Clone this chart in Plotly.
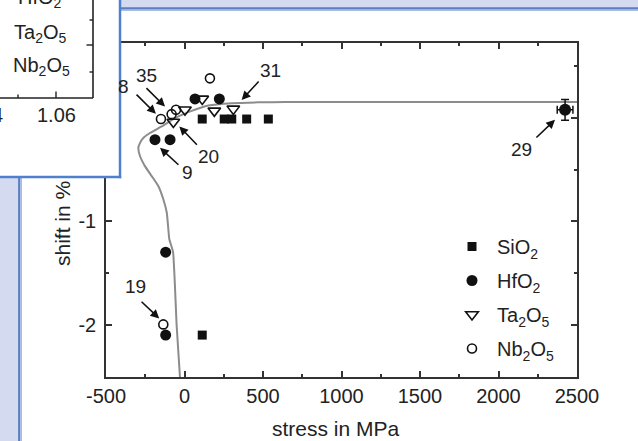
import plotly.graph_objects as go

# ---------------- data ----------------
sio2_stress = [113, 253, 301, 396, 534, 113]
sio2_shift = [-0.013, -0.013, -0.013, -0.013, -0.013, -2.096]

hfo2_stress = [67, 222, -188, -92, -120, -120]
hfo2_shift = [0.181, 0.181, -0.212, -0.212, -1.297, -2.096]

ta2o5_stress = [-71, 3, 113, 190, 311]
ta2o5_shift = [-0.042, 0.076, 0.181, 0.066, 0.085]

nb2o5_stress = [-150, -82, -54, 162, -135]
nb2o5_shift = [-0.013, 0.034, 0.076, 0.379, -1.993]

ref29_stress = [2424]
ref29_shift = [0.076]
ref29_err_stress = [50]
ref29_err_shift = [0.1]

model_stress = [-29, -50, -73, -97, -103, -113, -135, -167, -209, -252, -283, -294,
                -283, -262, -220, -145, -61, 46, 152, 301, 470, 640, 1000, 2500]
model_shift = [-2.5, -2.003, -1.294, -1.17, -1.074, -0.914, -0.786, -0.659, -0.563, -0.467,
               -0.372, -0.291, -0.243, -0.195, -0.148, -0.084, -0.004, 0.066, 0.117, 0.14,
               0.148, 0.15, 0.15, 0.15]

# reference labels: label text, label position, arrow tail, arrow head
ref_labels = ["35", "8", "20", "9", "31", "29", "19"]
ref_label_x = [-241, -390, 152, 18, 545, 2148, -315]
ref_label_y = [0.411, 0.299, -0.372, -0.531, 0.459, -0.306, -1.632]
ref_tail_x = [-252, -315, 88, -29, 481, 2232, -283]
ref_tail_y = [0.299, 0.236, -0.276, -0.467, 0.363, -0.205, -1.761]
ref_head_x = [-124, -182, -33, -156, 364, 2360, -161]
ref_head_y = [0.107, 0.037, -0.084, -0.291, 0.171, -0.02, -1.936]

x_ticks = [-500, 0, 500, 1000, 1500, 2000, 2500]
y_ticks = [-2, -1, 0]

# ---------------- figure ----------------
W, H = 638, 441
ML, MR, MT, MB = 106, 61, 43, 64
PW, PH = W - ML - MR, H - MT - MB


def px(x):
    return (x - ML) / PW


def py(y):
    return (H - MB - y) / PH


FONT = "Liberation Sans, Arial, sans-serif"
INK = "#222222"
AX = "#333333"

fig = go.Figure()

fig.add_trace(go.Scatter(x=model_stress, y=model_shift, mode="lines",
                         line=dict(color="#8c8c8c", width=2, shape="spline", smoothing=0.4),
                         showlegend=False, hoverinfo="skip"))

fig.add_trace(go.Scatter(x=sio2_stress, y=sio2_shift, mode="markers", name="SiO<sub>2</sub>",
                         legendgroup="a",
                         marker=dict(symbol="square", size=9, color="#111111")))
fig.add_trace(go.Scatter(x=hfo2_stress, y=hfo2_shift, mode="markers", name="HfO<sub>2</sub>",
                         legendgroup="b",
                         marker=dict(symbol="circle", size=11, color="#111111")))
fig.add_trace(go.Scatter(x=ta2o5_stress, y=ta2o5_shift, mode="markers",
                         name="Ta<sub>2</sub>O<sub>5</sub>", legendgroup="c",
                         marker=dict(symbol="triangle-down-open", size=11,
                                     color="#111111", line=dict(width=1.6, color="#111111"))))
fig.add_trace(go.Scatter(x=nb2o5_stress, y=nb2o5_shift, mode="markers",
                         name="Nb<sub>2</sub>O<sub>5</sub>", legendgroup="d",
                         marker=dict(symbol="circle-open", size=9,
                                     color="#111111", line=dict(width=1.6, color="#111111"))))
fig.add_trace(go.Scatter(x=ref29_stress, y=ref29_shift, mode="markers", showlegend=False,
                         marker=dict(symbol="circle", size=12, color="#111111"),
                         error_y=dict(type="data", array=ref29_err_shift, color="#111111",
                                      thickness=1.5, width=4),
                         error_x=dict(type="data", array=ref29_err_stress, color="#111111",
                                      thickness=1.5, width=4)))

annotations = []
for lab, lx, ly, tx, ty, hx, hy in zip(ref_labels, ref_label_x, ref_label_y,
                                        ref_tail_x, ref_tail_y, ref_head_x, ref_head_y):
    annotations.append(dict(x=hx, y=hy, ax=tx, ay=ty, xref="x", yref="y", axref="x", ayref="y",
                            text="", showarrow=True, arrowhead=2, arrowsize=1.1,
                            arrowwidth=1.6, arrowcolor="#111111", standoff=0, startstandoff=0))
    annotations.append(dict(x=lx, y=ly, xref="x", yref="y", text=lab, showarrow=False,
                            xanchor="center", yanchor="middle",
                            font=dict(family=FONT, size=19, color=INK)))


def paper_text(x, y, text, size=20, angle=0):
    return dict(x=px(x), y=py(y), xref="paper", yref="paper", text=text, showarrow=False,
                xanchor="center", yanchor="middle", textangle=angle,
                font=dict(family=FONT, size=size, color=INK))


# axis titles
annotations.append(paper_text(336, 428, "stress in MPa", 21))
annotations.append(paper_text(62, 224, "shift in %", 21, -90))

# inset texts (cropped overlapping chart)
annotations.append(paper_text(40, -2, "HfO<sub>2</sub>"))
annotations.append(paper_text(40, 33, "Ta<sub>2</sub>O<sub>5</sub>"))
annotations.append(paper_text(41, 66, "Nb<sub>2</sub>O<sub>5</sub>"))
annotations.append(paper_text(56, 115, "1.06"))
annotations.append(paper_text(-3, 115, "4"))

shapes = []
# page frame
shapes.append(dict(type="rect", xref="paper", yref="paper", x0=px(21), x1=px(W + 5),
                   y0=py(H + 5), y1=py(10), fillcolor="white", line=dict(width=0), layer="below"))
shapes.append(dict(type="line", xref="paper", yref="paper", x0=px(19.2), x1=px(19.2),
                   y0=py(H + 5), y1=py(8), line=dict(color="#5a7fc2", width=2.2), layer="above"))
shapes.append(dict(type="line", xref="paper", yref="paper", x0=px(21.3), x1=px(21.3),
                   y0=py(H + 5), y1=py(10), line=dict(color="#a9bde3", width=1.4), layer="above"))
shapes.append(dict(type="line", xref="paper", yref="paper", x0=px(18), x1=px(W + 5),
                   y0=py(8.3), y1=py(8.3), line=dict(color="#5a7fc2", width=2.2), layer="above"))
shapes.append(dict(type="line", xref="paper", yref="paper", x0=px(20), x1=px(W + 5),
                   y0=py(10.3), y1=py(10.3), line=dict(color="#a9bde3", width=1.2), layer="above"))
# inset box
shapes.append(dict(type="rect", xref="paper", yref="paper", x0=px(-5), x1=px(120),
                   y0=py(177), y1=py(-5), fillcolor="white", line=dict(width=0), layer="above"))
shapes.append(dict(type="line", xref="paper", yref="paper", x0=px(120), x1=px(120),
                   y0=py(178.2), y1=py(-5), line=dict(color="#4f80cf", width=2.5), layer="above"))
shapes.append(dict(type="line", xref="paper", yref="paper", x0=px(-5), x1=px(121.2),
                   y0=py(177), y1=py(177), line=dict(color="#4f80cf", width=2.5), layer="above"))
# inset axes
inset_lines = [
    (93, -5, 93, 98, 1.6), (-5, 98, 93, 98, 1.6),
    (89.5, 20, 93, 20, 1.4), (86.5, 45, 93, 45, 1.4), (89.5, 72, 93, 72, 1.4),
    (18, 94.5, 18, 98, 1.4), (56, 91.5, 56, 98, 1.4),
]
for x0, y0, x1, y1, w in inset_lines:
    shapes.append(dict(type="line", xref="paper", yref="paper", x0=px(x0), x1=px(x1),
                       y0=py(y0), y1=py(y1), line=dict(color="#222222", width=w), layer="above"))

axis_common = dict(showgrid=False, zeroline=False, showline=True, linecolor=AX, linewidth=1.5,
                   mirror="ticks", ticks="inside", ticklen=6, tickwidth=1.5, tickcolor=AX,
                   tickfont=dict(family=FONT, size=20, color=INK))

fig.update_layout(
    width=W, height=H,
    margin=dict(l=ML, r=MR, t=MT, b=MB, pad=0),
    paper_bgcolor="#d4dbf1", plot_bgcolor="white",
    font=dict(family=FONT, color=INK),
    xaxis=dict(range=[-500, 2500], tickvals=x_ticks, ticktext=[str(v) for v in x_ticks],
               minor=dict(dtick=250, tick0=0, ticks="inside", ticklen=3, tickwidth=1.5,
                          tickcolor=AX),
               **axis_common),
    yaxis=dict(range=[-2.5, 0.72], tickvals=y_ticks, ticktext=[str(v) for v in y_ticks],
               ticklabelstandoff=4,
               minor=dict(dtick=0.5, tick0=0, ticks="inside", ticklen=3, tickwidth=1.5,
                          tickcolor=AX),
               **axis_common),
    legend=dict(x=px(447), y=py(227), xanchor="left", yanchor="top",
                bgcolor="rgba(0,0,0,0)", font=dict(family=FONT, size=20, color=INK),
                tracegroupgap=5, itemwidth=40),
    annotations=annotations,
    shapes=shapes,
)

fig.write_html("out.html", config={"displayModeBar": False},
               post_script="document.body.style.margin='0';document.body.style.overflow='hidden';")
